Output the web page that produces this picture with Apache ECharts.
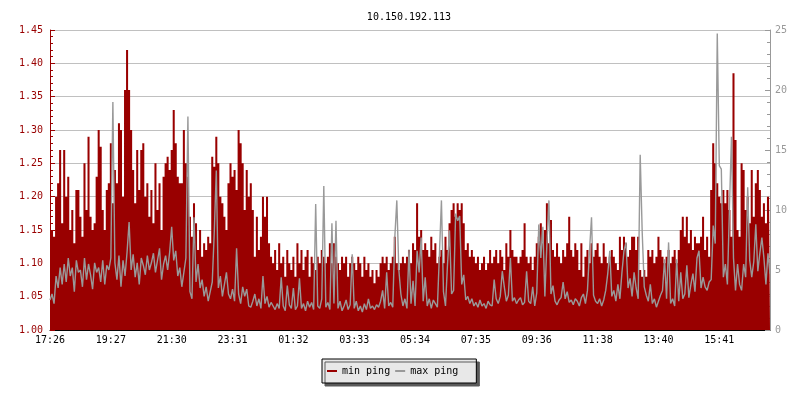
<!DOCTYPE html>
<html><head><meta charset="utf-8">
<script src="https://cdn.jsdelivr.net/npm/echarts@6/dist/echarts.min.js"></script>
<style>html,body{margin:0;padding:0;background:#fff}#c{width:800px;height:400px}</style>
</head><body><div id="c"></div>
<script>
const chartTitle = '10.150.192.113';
const tickLabels = ['17:26','19:27','21:30','23:31','01:32','03:33','05:34','07:35','09:36','11:38','13:40','15:41'];
const seriesNames = ['min ping', 'max ping'];
const minPing = [
1.26,1.15,1.14,1.20,1.22,1.27,1.16,1.27,1.20,1.23,
1.15,1.18,1.13,1.21,1.21,1.17,1.14,1.25,1.18,1.29,
1.17,1.15,1.16,1.23,1.30,1.275,1.18,1.15,1.21,1.22,
1.28,1.19,1.24,1.22,1.31,1.30,1.20,1.36,1.42,1.36,
1.30,1.24,1.19,1.27,1.21,1.27,1.28,1.20,1.22,1.17,
1.21,1.16,1.25,1.18,1.22,1.15,1.23,1.25,1.26,1.24,
1.27,1.33,1.28,1.23,1.22,1.22,1.30,1.25,1.23,1.17,
1.14,1.19,1.16,1.12,1.15,1.11,1.13,1.12,1.14,1.13,
1.26,1.245,1.29,1.25,1.20,1.19,1.17,1.15,1.22,1.25,
1.23,1.24,1.21,1.30,1.28,1.25,1.18,1.24,1.20,1.22,
1.18,1.11,1.17,1.12,1.14,1.20,1.17,1.20,1.13,1.11,
1.10,1.12,1.09,1.13,1.10,1.11,1.08,1.12,1.10,1.09,
1.11,1.08,1.13,1.10,1.12,1.09,1.11,1.12,1.08,1.11,
1.10,1.09,1.11,1.10,1.12,1.11,1.10,1.11,1.13,1.10,
1.13,1.11,1.10,1.09,1.11,1.10,1.11,1.08,1.10,1.11,
1.10,1.09,1.11,1.10,1.08,1.11,1.09,1.10,1.08,1.09,
1.07,1.09,1.08,1.10,1.11,1.10,1.11,1.09,1.10,1.11,
1.14,1.10,1.09,1.10,1.11,1.10,1.11,1.12,1.10,1.13,
1.12,1.19,1.14,1.15,1.12,1.13,1.12,1.11,1.14,1.12,
1.13,1.10,1.11,1.12,1.10,1.14,1.12,1.16,1.18,1.19,
1.17,1.19,1.18,1.19,1.16,1.12,1.13,1.11,1.12,1.11,
1.10,1.11,1.09,1.10,1.11,1.09,1.10,1.12,1.10,1.11,
1.12,1.10,1.12,1.11,1.09,1.13,1.11,1.15,1.12,1.11,
1.11,1.10,1.11,1.12,1.16,1.11,1.10,1.11,1.09,1.11,
1.13,1.14,1.16,1.13,1.15,1.19,1.13,1.165,1.12,1.11,
1.13,1.11,1.10,1.12,1.11,1.13,1.17,1.12,1.11,1.13,
1.12,1.09,1.13,1.08,1.11,1.12,1.10,1.13,1.11,1.12,
1.13,1.11,1.10,1.13,1.11,1.10,1.11,1.12,1.11,1.10,
1.09,1.14,1.12,1.14,1.13,1.11,1.12,1.14,1.14,1.12,
1.14,1.09,1.08,1.09,1.08,1.12,1.11,1.12,1.10,1.11,
1.14,1.12,1.11,1.10,1.11,1.12,1.10,1.11,1.12,1.10,
1.12,1.15,1.17,1.14,1.17,1.13,1.15,1.12,1.14,1.13,
1.13,1.14,1.17,1.12,1.14,1.11,1.21,1.28,1.25,1.22,
1.20,1.19,1.21,1.19,1.21,1.18,1.14,1.385,1.285,1.15,
1.14,1.25,1.24,1.18,1.20,1.16,1.24,1.17,1.22,1.24,
1.21,1.17,1.19,1.16,1.20,1.21
];
const maxPing = [
2.5,3.0,2.2,4.5,3.5,5.2,3.8,5.5,4.0,6.0,
4.5,5.2,3.2,5.8,4.8,5.0,3.6,6.0,4.2,5.5,
4.6,3.4,5.6,4.8,5.2,4.0,5.8,3.8,5.4,5.0,
6.0,19.0,5.6,4.2,6.2,3.6,5.8,4.5,6.5,9.0,
5.0,6.3,4.4,5.6,3.8,6.0,5.4,4.6,6.2,5.0,
5.6,6.4,4.8,5.8,6.8,4.2,5.5,6.2,5.0,6.5,
8.6,5.8,6.6,4.5,5.2,3.6,4.8,6.0,17.8,3.2,
2.6,9.4,4.0,5.5,3.5,4.2,2.8,3.6,2.4,3.2,
4.0,8.2,13.3,3.5,4.5,2.8,3.8,4.8,3.0,2.6,
3.4,2.4,6.8,3.0,2.2,3.6,2.8,3.4,2.0,1.9,
2.4,3.0,2.0,2.6,1.8,4.5,2.2,2.8,1.9,2.3,
2.0,1.7,2.2,1.8,4.4,2.0,1.6,3.7,2.1,1.8,
3.5,1.7,2.0,4.3,1.8,2.2,1.6,2.4,1.9,2.3,
1.7,10.5,2.0,1.8,2.6,12.0,1.9,2.3,1.7,8.9,
2.2,9.1,1.8,2.4,1.6,2.0,2.5,1.7,2.1,6.3,
1.8,2.4,1.6,2.0,1.5,2.2,1.7,2.6,1.8,2.0,
1.7,2.1,1.9,2.4,3.3,1.8,4.8,2.0,2.3,1.9,
7.7,10.8,5.0,3.0,2.0,2.6,1.8,6.7,2.2,4.1,
2.0,6.6,4.8,7.7,2.4,4.4,2.0,2.6,1.8,2.5,
2.2,1.9,6.3,10.8,3.2,2.0,5.5,8.3,3.0,3.3,
9.7,9.1,9.5,3.8,4.6,2.5,2.8,2.2,2.6,2.0,
2.3,1.9,2.5,2.0,2.2,1.8,2.4,2.1,2.0,4.2,
2.6,2.2,2.8,4.9,3.6,2.4,2.9,6.0,2.4,2.7,
2.2,2.5,2.7,2.1,2.3,4.9,2.4,2.2,3.6,2.0,
3.1,8.8,6.0,8.6,2.8,7.2,10.8,3.0,3.7,2.4,
2.1,2.5,2.7,4.0,2.6,3.2,2.3,2.5,2.1,2.6,
2.4,2.0,2.7,3.0,2.2,3.3,6.6,9.4,2.9,2.4,
2.2,2.6,2.0,2.5,3.3,4.7,6.6,2.8,3.3,2.4,
3.8,2.6,4.8,6.6,7.3,3.5,4.3,2.8,4.8,3.5,
2.6,14.6,8.1,3.6,2.9,2.4,3.8,2.2,2.6,1.9,
2.4,2.9,3.3,5.9,2.6,7.3,2.2,2.6,2.0,5.9,
2.4,4.8,2.6,3.0,5.4,2.7,3.8,4.7,3.2,6.0,
6.6,3.5,4.4,3.6,3.3,4.0,4.2,8.7,7.2,24.7,
13.7,13.4,4.4,5.5,3.8,10.1,16.1,6.0,3.3,5.5,
3.8,3.3,5.5,4.4,11.9,5.8,4.4,5.7,8.8,4.9,
6.4,7.7,6.0,3.8,6.4,4.7
];
const labelEvery = 30;
const categories = minPing.map((_, i) => (i % labelEvery === 0 ? (tickLabels[i / labelEvery] || '') : ''));

const font = '"DejaVu Sans Mono", monospace';
const red = '#990000';
const gray = '#999999';
const chart = echarts.init(document.getElementById('c'), null, {renderer: 'canvas', width: 800, height: 400});
chart.setOption({
  animation: false,
  backgroundColor: '#ffffff',
  title: {
    text: chartTitle, left: 404, top: 7, textAlign: 'center',
    textStyle: {fontFamily: font, fontSize: 10, fontWeight: 'normal', color: '#000'}
  },
  legend: {
    data: seriesNames, left: 322, top: 359, icon: 'rect', itemWidth: 10, itemHeight: 2, itemGap: 5,
    padding: [7, 18, 7, 5], backgroundColor: '#e8e8e8', borderColor: '#000', borderWidth: 1,
    shadowColor: '#5a5a5a', shadowBlur: 0, shadowOffsetX: 3, shadowOffsetY: 3,
    textStyle: {fontFamily: font, fontSize: 10, color: '#000', lineHeight: 10}
  },
  grid: {left: 50, right: 30, top: 30, bottom: 70, containLabel: false},
  xAxis: {
    type: 'category', data: categories, boundaryGap: false,
    axisLine: {lineStyle: {color: '#000', width: 1}},
    axisTick: {inside: true, length: 5, interval: labelEvery - 1, lineStyle: {color: '#000'}},
    axisLabel: {interval: labelEvery - 1, color: '#000', fontFamily: font, fontSize: 10, margin: 5},
    splitLine: {show: false}
  },
  yAxis: [{
    type: 'value', min: 1, max: 1.45, interval: 0.05, position: 'left',
    axisLine: {show: true, lineStyle: {color: red}},
    axisTick: {show: true, inside: true, length: 5, lineStyle: {color: red}},
    minorTick: {show: true, splitNumber: 5, length: 3, lineStyle: {color: red}},
    axisLabel: {formatter: v => v.toFixed(2), color: red, fontFamily: font, fontSize: 10, margin: 7},
    splitLine: {show: true, lineStyle: {color: '#c0c0c0', width: 1}}
  }, {
    type: 'value', min: 0, max: 25, interval: 5, position: 'right',
    axisLine: {show: true, lineStyle: {color: gray}},
    axisTick: {show: true, inside: true, length: 5, lineStyle: {color: gray}},
    minorTick: {show: true, splitNumber: 5, length: 3, lineStyle: {color: gray}},
    axisLabel: {color: gray, fontFamily: font, fontSize: 10, margin: 5},
    splitLine: {show: false}
  }],
  series: [{
    name: seriesNames[0], type: 'line', yAxisIndex: 0, data: minPing, step: 'middle',
    symbol: 'none', lineStyle: {width: 0, color: red}, itemStyle: {color: red},
    areaStyle: {color: red, opacity: 1, origin: 'start'}, emphasis: {disabled: true}, z: 2
  }, {
    name: seriesNames[1], type: 'line', yAxisIndex: 1, data: maxPing,
    symbol: 'none', lineStyle: {width: 1.4, color: gray}, itemStyle: {color: gray},
    emphasis: {disabled: true}, z: 3
  }]
});
</script>
</body></html>
